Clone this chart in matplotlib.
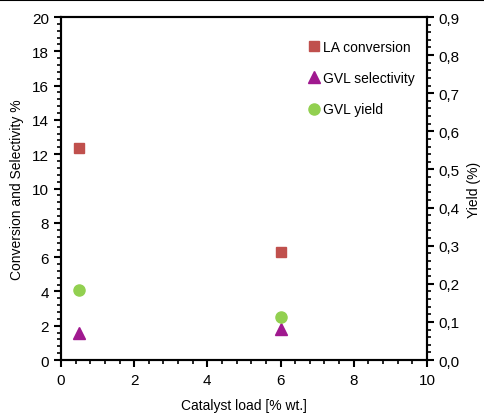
import matplotlib
matplotlib.use("Agg")
import matplotlib.pyplot as plt
from matplotlib.ticker import MultipleLocator, FuncFormatter
from matplotlib.lines import Line2D

plt.rcParams['font.family'] = ['Liberation Sans', 'DejaVu Sans']

load = [0.5, 6.0]
la_conversion = [12.35, 6.32]
gvl_selectivity = [1.55, 1.80]
gvl_yield = [0.185, 0.112]

fig = plt.figure(figsize=(4.84, 4.14), dpi=100)
ax = fig.add_axes([0.126, 0.128, 0.756, 0.8285])
ax2 = ax.twinx()

h1, = ax.plot(load, la_conversion, ls='none', marker='s', ms=7, color='#C0504D', label='LA conversion')
h2, = ax.plot(load, gvl_selectivity, ls='none', marker='^', ms=8, color='#A0198F', label='GVL selectivity')
h3, = ax2.plot(load, gvl_yield, ls='none', marker='o', ms=8, color='#92D050', label='GVL yield')

ax.set_xlim(0, 10)
ax.set_ylim(0, 20)
ax2.set_ylim(0, 0.9)
ax.xaxis.set_major_locator(MultipleLocator(2))
ax.xaxis.set_minor_locator(MultipleLocator(0.4))
ax.yaxis.set_major_locator(MultipleLocator(2))
ax.yaxis.set_minor_locator(MultipleLocator(0.4))
ax2.yaxis.set_major_locator(MultipleLocator(0.1))
ax2.yaxis.set_minor_locator(MultipleLocator(0.02))
ax2.yaxis.set_major_formatter(FuncFormatter(lambda v, p: f"{v:.1f}".replace('.', ',')))

for a in (ax, ax2):
    for s in a.spines.values():
        s.set_linewidth(1.5)
    a.tick_params(which='major', length=5, width=1.5, labelsize=11, direction='out')
    a.tick_params(which='minor', length=3, width=1.2, direction='out')
ax.tick_params(axis='x', pad=4)

ax.set_xlabel('Catalyst load [% wt.]', fontsize=10, labelpad=8)
ax.set_ylabel('Conversion and Selectivity %', fontsize=10, labelpad=6)
ax2.set_ylabel('Yield (%)', fontsize=10, labelpad=5)

leg = ax.legend(handles=[h1, h2, h3], loc='upper left', bbox_to_anchor=(0.66, 0.95),
                frameon=False, fontsize=10, labelspacing=1.25, handlelength=0.8,
                handletextpad=0.25, borderaxespad=0)

fig.add_artist(Line2D([0, 1], [0.997, 0.997], color='black', lw=1.5, transform=fig.transFigure))

fig.savefig('out.png', dpi=100)
